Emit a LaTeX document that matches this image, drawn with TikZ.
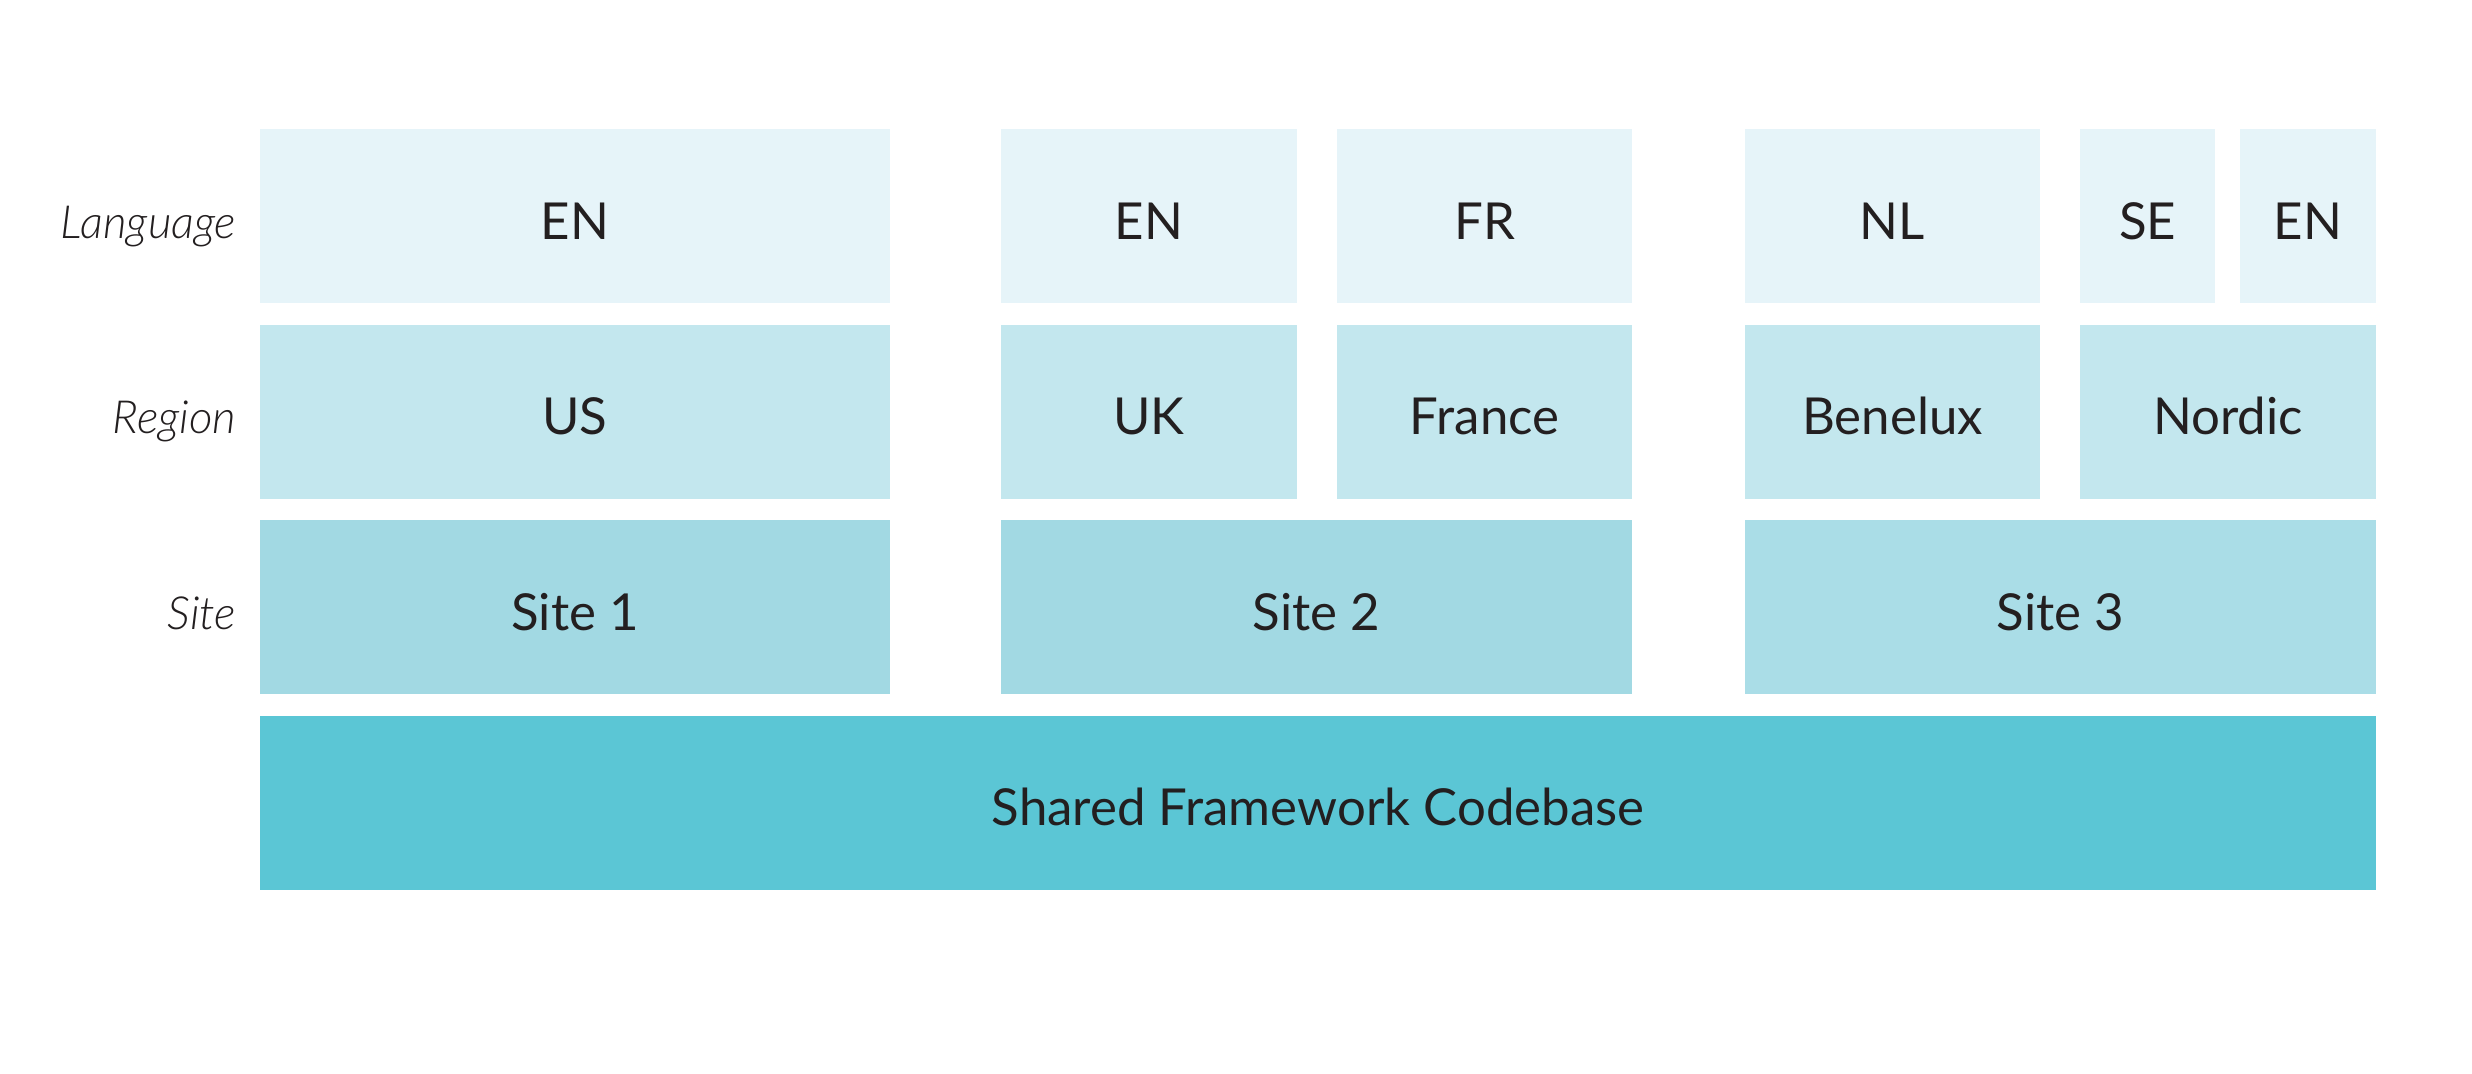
\documentclass[tikz,border=0pt]{standalone}
\usepackage{fontspec}
\setmainfont{Lato}
\newfontfamily\labelfont{Lato Light}[ItalicFont={Lato Light Italic}]
\usepackage{tikz}
\usetikzlibrary{positioning}

\definecolor{langcol}{HTML}{E6F4F9}
\definecolor{regioncol}{HTML}{C3E7EE}
\definecolor{sitecol}{HTML}{A2D9E3}
\definecolor{sitecolb}{HTML}{AADDE7}
\definecolor{sharedcol}{HTML}{5BC6D5}
\definecolor{textcol}{HTML}{231F20}

\begin{document}
\begin{tikzpicture}[
	box/.style={minimum height=1.74cm, inner sep=0pt, text height=0.466cm, text depth=0pt, text=textcol, font=\fontsize{14.5}{17}\selectfont},
	lang/.style={box, fill=langcol},
	region/.style={box, fill=regioncol},
	site/.style={box, fill=sitecol},
	shared/.style={box, fill=sharedcol},
	rowlabel/.style={anchor=east, inner sep=0pt, text height=0.44cm, text depth=0pt, text=textcol, font=\fontsize{13}{16}\selectfont\labelfont\itshape}
	]
		\useasboundingbox (0,0) rectangle (24.72,-10.73);
		
		\node[rowlabel] (langlabel) at (2.37,-2.16) {Language};
		\node[rowlabel] (regionlabel) at (2.37,-4.115) {Region};
		\node[rowlabel] (sitelabel) at (2.37,-6.07) {Site};
		
		\node[lang, minimum width=6.30cm] (enus) at (5.75,-2.16) {EN};
		\node[lang, minimum width=2.96cm] (enuk) at (11.49,-2.16) {EN};
		\node[lang, minimum width=2.95cm] (fr) at (14.845,-2.16) {FR};
		\node[lang, minimum width=2.95cm] (nl) at (18.925,-2.16) {NL};
		\node[lang, minimum width=1.35cm] (se) at (21.475,-2.16) {SE};
		\node[lang, minimum width=1.36cm] (ennordic) at (23.08,-2.16) {EN};
		
		\node[region, minimum width=6.30cm] (us) at (5.75,-4.115) {US};
		\node[region, minimum width=2.96cm] (uk) at (11.49,-4.115) {UK};
		\node[region, minimum width=2.95cm] (france) at (14.845,-4.115) {France};
		\node[region, minimum width=2.95cm] (benelux) at (18.925,-4.115) {Benelux};
		\node[region, minimum width=2.96cm] (nordic) at (22.28,-4.115) {Nordic};
		
		\node[site, minimum width=6.30cm] (site1) at (5.75,-6.07) {Site 1};
		\node[site, minimum width=6.31cm] (site2) at (13.165,-6.07) {Site 2};
		\node[site, fill=sitecolb, minimum width=6.31cm] (site3) at (20.605,-6.07) {Site 3};
		
		\node[shared, minimum width=21.16cm] (codebase) at (13.18,-8.025) {Shared Framework Codebase};
		
\end{tikzpicture}
\end{document}
